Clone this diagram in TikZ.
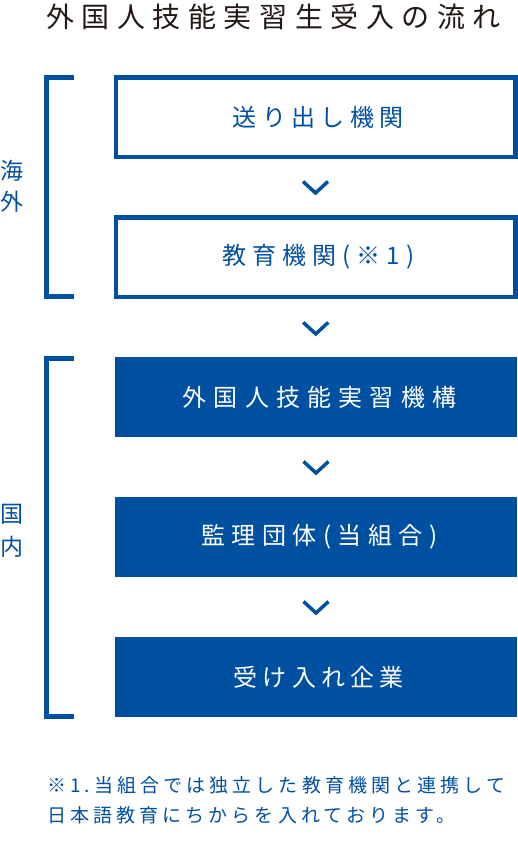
\documentclass[tikz,border=0pt]{standalone}
\usepackage{fontspec}
\setmainfont{Noto Sans CJK JP}
\usetikzlibrary{calc}
\definecolor{navy}{RGB}{0,80,162}
\definecolor{inkc}{RGB}{35,24,21}
\newcommand\trk[3]{{\addfontfeature{LetterSpace=#1}#3}\kern-#2pt\relax}
\begin{document}
\begin{tikzpicture}[x=1pt,y=-1pt,
  outbox/.style={draw=navy,line width=4.5pt,fill=white,minimum width=399.5pt,minimum height=79.5pt,inner sep=0pt,text=navy,font=\fontsize{24}{28}\selectfont},
  fillbox/.style={fill=navy,minimum width=402pt,minimum height=80pt,inner sep=0pt,text=white,font=\fontsize{24}{28}\selectfont},
  bracketline/.style={draw=navy,line width=5pt},
  chevline/.style={draw=navy,line width=3.5pt,line join=miter},
  sidelabel/.style={text=navy,inner sep=0pt,font=\fontsize{23}{27}\selectfont},
  titletext/.style={text=inkc,inner sep=0pt,anchor=west,font=\fontsize{28}{32}\selectfont},
  notetext/.style={text=navy,inner sep=0pt,anchor=west,font=\fontsize{19}{23}\selectfont}]
\useasboundingbox (0,0) rectangle (518,841);
\node[titletext] (title) at (46,17) {\trk{27}{7.5}{外国人技能実習生受入の流れ}};
\node[outbox] (box1) at (315.5,117) {\trk{22}{5.3}{送り出し機関}};
\node[outbox] (box2) at (315.5,257) {\trk{25}{6}{教育機関(※1)}};
\node[fillbox] (box3) at (316,397) {\trk{30}{7.2}{外国人技能実習機構}};
\node[fillbox] (box4) at (316,537) {\trk{27}{6.5}{監理団体(当組合)}};
\node[fillbox] (box5) at (316,677) {\trk{22}{5.3}{受け入れ企業}};
\draw[bracketline] (74,77.5) -| (46.5,296.5) -- (74,296.5);
\draw[bracketline] (74,358.5) -| (46.5,716.5) -- (74,716.5);
\node[sidelabel] (l1) at (12,171) {海};
\node[sidelabel] (l2) at (12,202) {外};
\node[sidelabel] (l3) at (12,514) {国};
\node[sidelabel] (l4) at (12,547) {内};
\coordinate (m1) at ($(box1.south)!0.5!(box2.north)$);
\coordinate (m2) at ($(box2.south)!0.5!(box3.north)$);
\coordinate (m3) at ($(box3.south)!0.5!(box4.north)$);
\coordinate (m4) at ($(box4.south)!0.5!(box5.north)$);
\foreach \m in {m1,m2,m3,m4}{
  \draw[chevline] ($(\m)+(-12.5,-5.5)$) -- ($(\m)+(0,6)$) -- ($(\m)+(12.5,-5.5)$);
}
\node[notetext] (note1) at (47,785) {\trk{21.5}{4.1}{※1.当組合では独立した教育機関と連携して}};
\node[notetext] (note2) at (47,815) {\trk{21.5}{4.1}{日本語教育にちからを入れております。}};
\end{tikzpicture}
\end{document}
